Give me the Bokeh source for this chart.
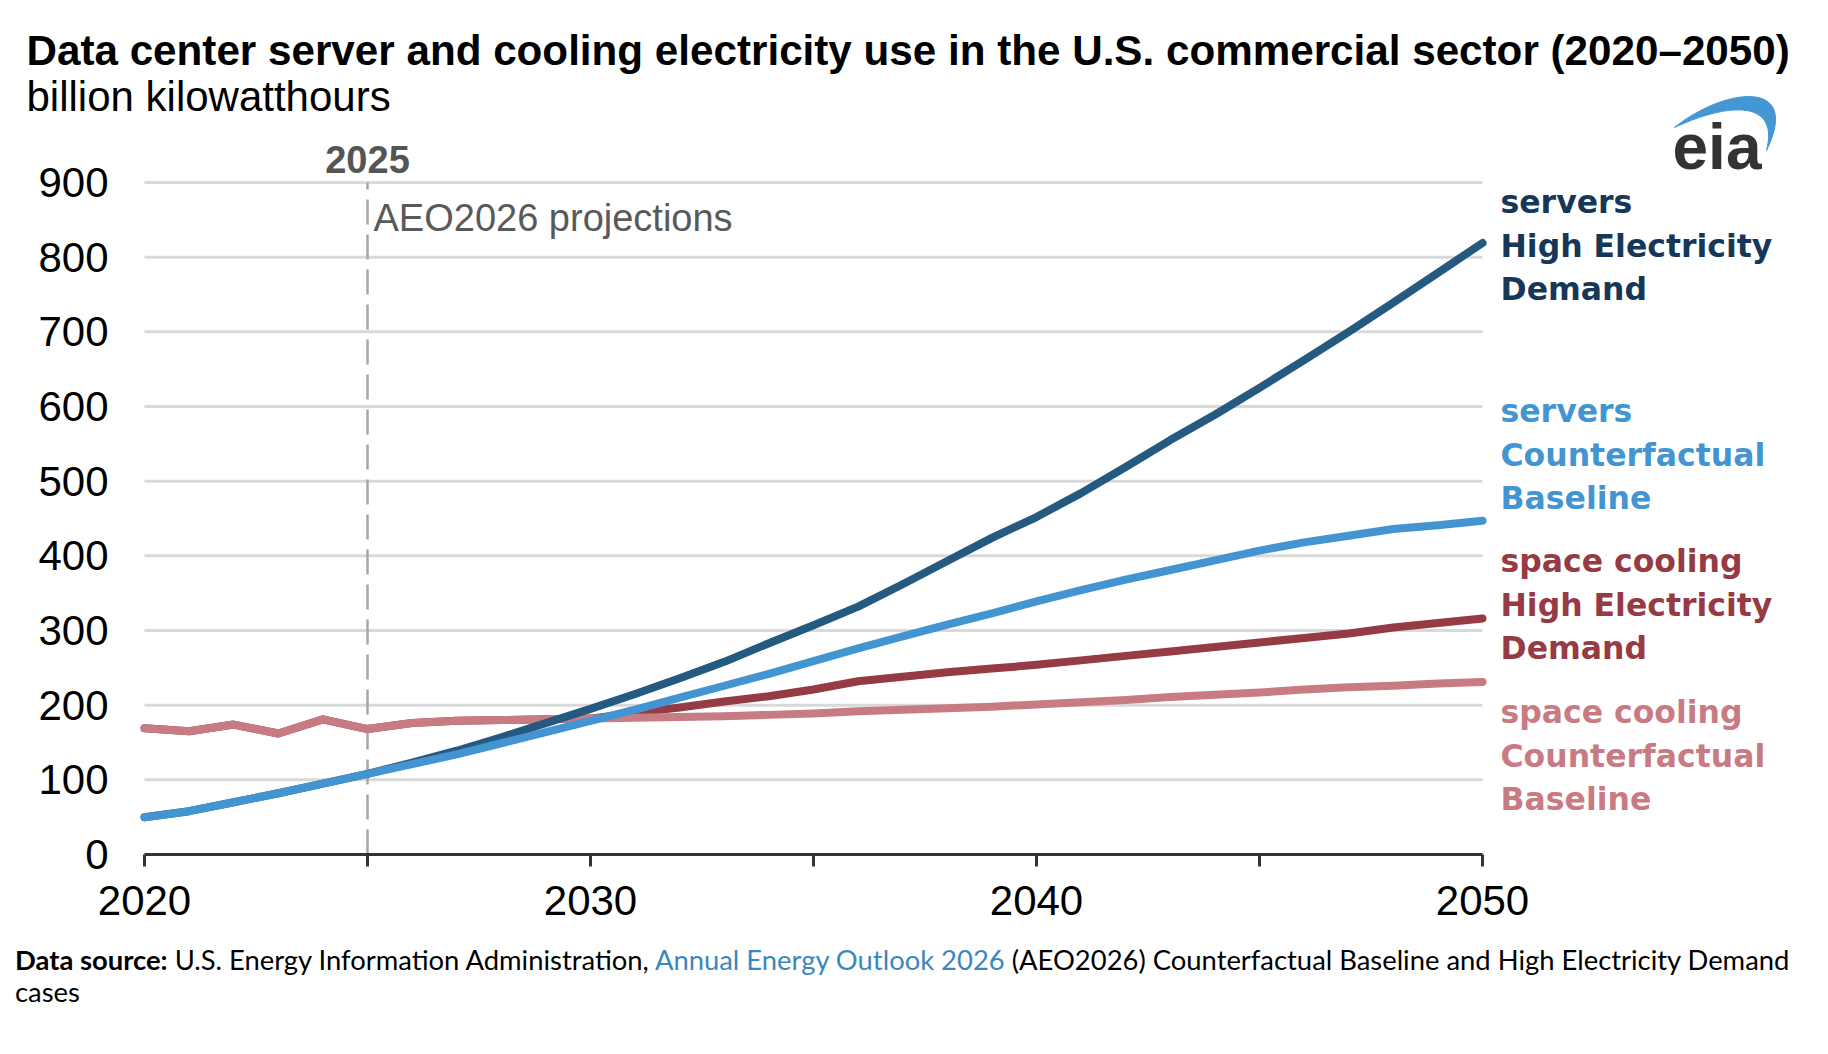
import numpy as np
from bokeh.plotting import figure
from bokeh.models import Range1d, FixedTicker, Label, Div
from bokeh.layouts import column
from bokeh.embed import file_html
from bokeh.resources import INLINE

# ----------------------------
# Data (billion kWh)
# ----------------------------
years = list(range(2020, 2051))

servers_high = [50, 58, 70, 82, 95, 108, 123, 139, 157, 176, 195,
                215, 236, 258, 283, 307, 332, 362, 393, 424, 452,
                484, 519, 555, 589, 625, 662, 700, 739, 779, 819]
servers_base = [50, 58, 70, 82, 95, 108, 121, 134, 149, 164, 179,
                194, 210, 226, 242, 259, 276, 292, 308, 323, 339,
                354, 368, 381, 394, 407, 418, 427, 436, 441, 447]
cooling_high = [169, 165, 174, 162, 181, 168, 176, 179, 180, 181, 182,
                190, 197, 205, 212, 221, 232, 238, 244, 249, 254,
                260, 266, 272, 278, 284, 290, 296, 304, 310, 316]
cooling_base = [169, 165, 174, 162, 181, 168, 176, 179, 180, 181, 182,
                183, 184, 185, 187, 189, 192, 194, 196, 198, 201,
                204, 207, 211, 214, 217, 221, 224, 226, 229, 231]

y_ticks = [0, 100, 200, 300, 400, 500, 600, 700, 800, 900]
x_ticks = [2020, 2025, 2030, 2035, 2040, 2045, 2050]
x_hidden = [2025, 2035, 2045]
projection_year = 2025

series_labels = [
    ["servers", "High Electricity", "Demand"],
    ["servers", "Counterfactual", "Baseline"],
    ["space cooling", "High Electricity", "Demand"],
    ["space cooling", "Counterfactual", "Baseline"],
]

NAVY = "#255a80"
NAVY_TEXT = "#163757"
BLUE = "#4395d1"
RED = "#963a43"
PINK = "#c97b83"
FONT = "Liberation Sans"
LABEL_FONT = "DejaVu Sans"

# ----------------------------
# Pixel helpers (2020 sits at x=144, 0 sits at y=854)
# ----------------------------
X0, PPX = 144, (1482 - 144) / 30
Y0, PPY = 854, (854 - 182) / 900
W, H = 1820, 944


def dx(px):
    return 2020 + (px - X0) / PPX


def dy(py):
    return (Y0 - py) / PPY


# frame covers the whole canvas; axes are pinned inside it
p = figure(width=W, height=H,
           x_range=Range1d(dx(0), dx(W)), y_range=Range1d(dy(H), dy(0)),
           output_backend="svg", toolbar_location=None,
           min_border_left=0, min_border_right=0, min_border_top=0,
           min_border_bottom=0)
p.outline_line_color = None
p.background_fill_color = "white"
p.border_fill_color = "white"
p.xgrid.visible = False
p.ygrid.visible = False

# gridlines only across the data span
grid_y = [v for v in y_ticks if v > 0]
p.segment(x0=[years[0]] * len(grid_y), x1=[years[-1]] * len(grid_y),
          y0=grid_y, y1=grid_y, line_color="#d9d9d9", line_width=3)

# projection start marker
p.segment(x0=[projection_year], x1=[projection_year], y0=[0], y1=[y_ticks[-1]],
          line_color="#a6a6a6", line_width=2.5, line_dash="25 10")

# ----------------------------
# Lines
# ----------------------------
for vals, col in [(cooling_high, RED), (cooling_base, PINK),
                  (servers_high, NAVY), (servers_base, BLUE)]:
    p.line(years, vals, line_color=col, line_width=8,
           line_cap="round", line_join="round")

# ----------------------------
# Axes
# ----------------------------
xa = p.xaxis[0]
xa.fixed_location = 0
xa.ticker = FixedTicker(ticks=x_ticks)
xa.major_label_overrides = {y: "" for y in x_hidden}
xa.bounds = (years[0], years[-1])
xa.axis_line_color = "#333333"
xa.axis_line_width = 3
xa.major_tick_line_color = "#333333"
xa.major_tick_line_width = 3
xa.major_tick_in = 0
xa.major_tick_out = 12
xa.minor_tick_line_color = None
xa.major_label_text_font = FONT
xa.major_label_text_font_size = "42px"
xa.major_label_text_color = "black"
xa.major_label_standoff = 19

ya = p.yaxis[0]
ya.fixed_location = years[0]
ya.ticker = FixedTicker(ticks=y_ticks)
ya.axis_line_color = None
ya.major_tick_line_color = None
ya.minor_tick_line_color = None
ya.major_tick_in = 0
ya.major_tick_out = 0
ya.major_label_text_font = FONT
ya.major_label_text_font_size = "42px"
ya.major_label_text_color = "black"
ya.major_label_standoff = 36


# ----------------------------
# Texts (positioned by baseline in pixels)
# ----------------------------
def add_text(px, base, text, size, color="black", bold=False, align="left",
             font=FONT):
    p.add_layout(Label(x=dx(px), y=dy(base - 0.35 * size), text=text,
                       text_font=font, text_font_size=f"{size}px",
                       text_color=color,
                       text_font_style="bold" if bold else "normal",
                       text_align=align, text_baseline="middle"))


add_text(26, 65, "Data center server and cooling electricity use in the U.S. "
         "commercial sector (2020\u20132050)", 42.2, bold=True)
add_text(26, 111, "billion kilowatthours", 42)
add_text(X0 + (projection_year - 2020) * PPX, 172, str(projection_year),
         38, color="#555555", bold=True, align="center")
add_text(373, 231, "AEO2026 projections", 38, color="#595959")

first_baselines = [213, 422, 572, 723]
for lines, col, base in zip(series_labels, [NAVY_TEXT, BLUE, RED, PINK],
                            first_baselines):
    for i, line in enumerate(lines):
        add_text(1500, base + i * 43.5, line, 31.5, color=col, bold=True,
                 font=LABEL_FONT)

# eia logo
add_text(1672, 169, "eia", 64, color="#333333", bold=True)
t = np.linspace(0, 1, 40)


def bez(p0, p1, p2, p3):
    pts = [np.array(v, dtype=float) for v in (p0, p1, p2, p3)]
    return (((1 - t) ** 3)[:, None] * pts[0] + (3 * (1 - t) ** 2 * t)[:, None] * pts[1]
            + (3 * (1 - t) * t ** 2)[:, None] * pts[2] + (t ** 3)[:, None] * pts[3])


outer = bez((1674, 127), (1722, 88), (1802, 76), (1766, 150))
inner = bez((1766, 150), (1779, 100), (1730, 101), (1674, 127))
arc = np.vstack([outer, inner])
p.patch([dx(v) for v in arc[:, 0]], [dy(v) for v in arc[:, 1]],
        fill_color="#4597d3", line_color="#4597d3", line_width=1)

source = Div(
    text='<div style="font-family: Lato, sans-serif; font-size: 27.4px; '
         'line-height: 32px; color: #000; white-space: nowrap;">'
         '<b>Data source:</b>'
         '<span> U.S. Energy Information Administration, </span>'
         '<span style="color:#3a87c0">Annual Energy Outlook 2026</span>'
         '<span> (AEO2026) Counterfactual Baseline and High Electricity '
         'Demand</span><br><span>cases</span></div>',
    width=1790, margin=(0, 0, 0, 15))

layout = column(p, source, spacing=0)
open("out.html", "w").write(file_html(layout, INLINE))
